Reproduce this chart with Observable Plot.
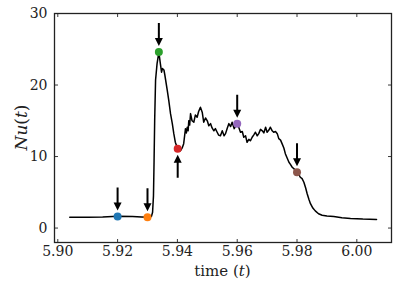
<!DOCTYPE html>
<html>
<head>
<meta charset="utf-8">
<script src="https://cdn.jsdelivr.net/npm/d3@7"></script>
<script src="https://cdn.jsdelivr.net/npm/@observablehq/plot@0.6"></script>
<style>
  html, body { margin: 0; padding: 0; background: #fff; }
</style>
</head>
<body>
<div id="chart"></div>
<script>
// Time series Nu(t)
const time = [5.904, 5.910, 5.915, 5.920, 5.925, 5.928, 5.930, 5.9313, 5.9317, 5.9320, 5.9322, 5.9324, 5.9327, 5.9332, 5.9338,
  5.9343, 5.9347, 5.9350, 5.9355, 5.9358, 5.9366, 5.9371, 5.9377, 5.9383, 5.9388, 5.9393, 5.9401, 5.9410, 5.9416, 5.9421,
  5.9427, 5.9430, 5.9433, 5.9436, 5.9438, 5.9441, 5.9444, 5.9449, 5.9455, 5.9460, 5.9466, 5.9471, 5.9477, 5.9483, 5.9488,
  5.9494, 5.9500, 5.9505, 5.9511, 5.9516, 5.9522, 5.9527, 5.9533, 5.9538, 5.9544, 5.9550, 5.9556, 5.9561, 5.9567, 5.9572,
  5.9578, 5.9583, 5.9590, 5.9595, 5.9600, 5.9606, 5.9611, 5.9617, 5.9622, 5.9628, 5.9633, 5.9639, 5.9644, 5.9650, 5.9655,
  5.9661, 5.9667, 5.9672, 5.9678, 5.9684, 5.9689, 5.9695, 5.9700, 5.9706, 5.9711, 5.9717, 5.9722, 5.9728, 5.9734, 5.9739,
  5.9745, 5.9750, 5.9756, 5.9761, 5.9767, 5.9773, 5.9778, 5.9784, 5.9792, 5.9800, 5.9806, 5.9811, 5.9817, 5.9823, 5.9829,
  5.9834, 5.9840, 5.9845, 5.9853, 5.9861, 5.9872, 5.9884, 5.9900, 5.9923, 5.9950, 5.9979, 6.0020, 6.0066];
const nu = [1.5, 1.5, 1.55, 1.65, 1.6, 1.55, 1.5, 1.6, 2.2, 4.5, 9.4, 15.0, 20.7, 23.0, 24.6,
  23.0, 21.8, 22.3, 22.1, 21.4, 19.3, 17.9, 16.0, 14.6, 13.2, 12.0, 11.1, 10.8, 11.2, 11.8,
  13.9, 13.3, 14.1, 13.6, 15.0, 14.4, 16.0, 15.0, 14.8, 15.8, 15.5, 16.3, 16.9, 16.2, 14.8,
  15.4, 15.0, 14.3, 14.6, 14.0, 13.6, 13.9, 13.4, 13.0, 12.9, 13.6, 12.9, 13.2, 14.0, 14.6,
  14.2, 14.8, 13.9, 14.3, 14.6, 14.0, 13.4, 13.5, 12.7, 12.9, 12.0, 12.4, 12.2, 12.7, 13.0,
  13.4, 12.9, 13.2, 13.8, 13.6, 13.3, 14.1, 13.4, 13.7, 14.1, 13.6, 13.4, 13.5, 13.2, 12.5,
  12.3, 11.8, 11.2, 10.4, 9.8, 9.2, 8.9, 8.5, 8.2, 7.8, 7.5, 7.1, 6.9, 6.4, 5.6,
  4.8, 4.0, 3.4, 2.8, 2.4, 2.0, 1.8, 1.7, 1.6, 1.45, 1.35, 1.25, 1.2];

// Marked instants
const markT = [5.920, 5.930, 5.9338, 5.9401, 5.960, 5.980];
const markNu = [1.6, 1.5, 24.6, 11.1, 14.6, 7.8];
const markColor = ["#1f77b4", "#ff7f0e", "#2ca02c", "#d62728", "#9467bd", "#8c564b"];
const markArrow = ["down", "down", "down", "up", "down", "down"];

const xTicks = [5.90, 5.92, 5.94, 5.96, 5.98, 6.00];
const yTicks = [0, 10, 20, 30];

const series = time.map((t, i) => ({t, v: nu[i]}));
const marks = markT.map((t, i) => ({t, v: markNu[i], color: markColor[i], rot: markArrow[i] === "down" ? 0 : 180}));

const font = "DejaVu Serif";

// arrow symbol pointing down, placed above the anchor point
const arrowSymbol = {
  draw(ctx) {
    const tip = -6, headBase = -14, top = -29, hw = 4, sw = 1;
    ctx.moveTo(0, tip);
    ctx.lineTo(hw, headBase);
    ctx.lineTo(sw, headBase);
    ctx.lineTo(sw, top);
    ctx.lineTo(-sw, top);
    ctx.lineTo(-sw, headBase);
    ctx.lineTo(-hw, headBase);
    ctx.closePath();
  }
};
const tickUp = {draw(ctx) { ctx.moveTo(0, 0); ctx.lineTo(0, -3.5); }};
const tickDown = {draw(ctx) { ctx.moveTo(0, 0); ctx.lineTo(0, 3.5); }};
const tickRight = {draw(ctx) { ctx.moveTo(0, 0); ctx.lineTo(3.5, 0); }};
const tickLeft = {draw(ctx) { ctx.moveTo(0, 0); ctx.lineTo(-3.5, 0); }};

const plot = Plot.plot({
  width: 398,
  height: 291,
  marginLeft: 54,
  marginRight: 7,
  marginTop: 13,
  marginBottom: 49,
  style: {fontFamily: font, fontSize: "14px", background: "#fff", color: "#222"},
  x: {domain: [5.8989, 6.0116], ticks: xTicks, tickFormat: d3.format(".2f")},
  y: {domain: [-2.02, 30], ticks: yTicks},
  marks: [
    Plot.axisX(xTicks, {tickSize: 0, tickPadding: 4, tickFormat: d3.format(".2f"), label: null, fontSize: 14, fontFamily: font, fill: "#222"}),
    Plot.axisY(yTicks, {tickSize: 0, tickPadding: 7, label: null, fontSize: 14, fontFamily: font, fill: "#222"}),
    Plot.line(series, {x: "t", y: "v", stroke: "black", strokeWidth: 1.5}),
    Plot.dot(marks, {x: "t", y: "v", symbol: arrowSymbol, fill: "black", stroke: "none", rotate: "rot"}),
    Plot.dot(marks, {x: "t", y: "v", r: 4, fill: "color", stroke: "none"}),
    Plot.dot(xTicks, {x: d => d, frameAnchor: "bottom", symbol: tickUp, stroke: "#222", fill: "none", strokeWidth: 0.9}),
    Plot.dot(xTicks, {x: d => d, frameAnchor: "top", symbol: tickDown, stroke: "#222", fill: "none", strokeWidth: 0.9}),
    Plot.dot(yTicks, {y: d => d, frameAnchor: "left", symbol: tickRight, stroke: "#222", fill: "none", strokeWidth: 0.9}),
    Plot.dot(yTicks, {y: d => d, frameAnchor: "right", symbol: tickLeft, stroke: "#222", fill: "none", strokeWidth: 0.9}),
    Plot.frame({stroke: "#222", strokeWidth: 1.3})
  ]
});

const svg = d3.select(plot);
const xl = svg.append("text")
  .attr("x", 222.5).attr("y", 276)
  .attr("text-anchor", "middle")
  .attr("font-family", font).attr("font-size", 15).attr("fill", "#222");
xl.append("tspan").text("time (");
xl.append("tspan").attr("font-style", "italic").text("t");
xl.append("tspan").text(")");

const yl = svg.append("text")
  .attr("transform", "translate(27,127.5) rotate(-90)")
  .attr("text-anchor", "middle")
  .attr("font-family", font).attr("font-size", 17).attr("fill", "#222");
yl.append("tspan").attr("font-style", "italic").text("Nu");
yl.append("tspan").text("(");
yl.append("tspan").attr("font-style", "italic").text("t");
yl.append("tspan").text(")");

document.getElementById("chart").append(plot);
</script>
</body>
</html>
